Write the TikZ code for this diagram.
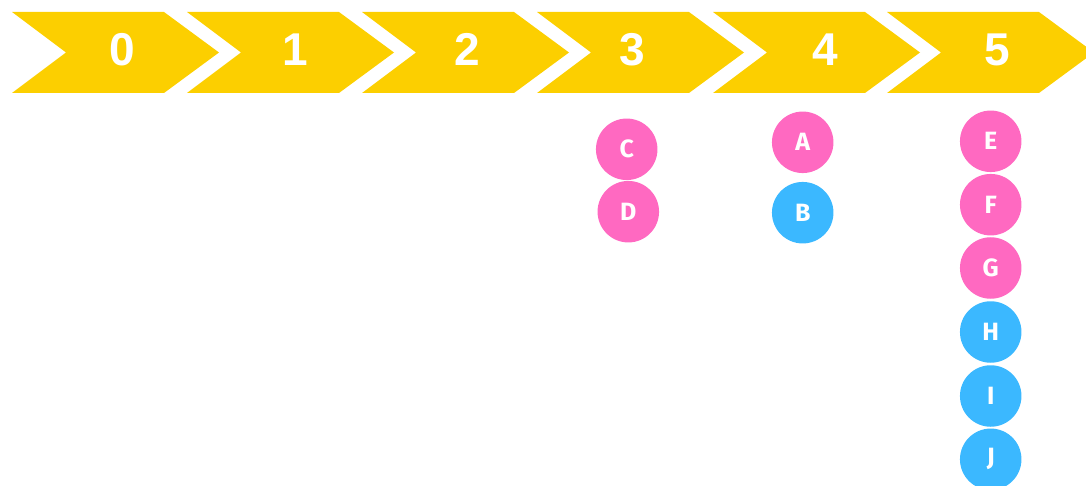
\documentclass[tikz,border=0pt]{standalone}
\usepackage{fontspec}
\setmainfont{Liberation Sans}
\newfontfamily\ballfont{Fira Sans}
\definecolor{stageyellow}{HTML}{FCCF00}
\definecolor{ballpink}{HTML}{FF69C1}
\definecolor{ballblue}{HTML}{3BB8FF}

\begin{document}
\begin{tikzpicture}[x=1pt, y=-1pt,
    stagelabel/.style={text=white, font=\fontsize{46}{46}\selectfont\bfseries, inner sep=0pt},
    ball/.style={circle, minimum size=61.5pt, inner sep=0pt, text=white,
        font=\ballfont\fontsize{25}{25}\selectfont\bfseries},
    pinkball/.style={ball, fill=ballpink},
    blueball/.style={ball, fill=ballblue}]
    \def\chevw{152}
    \def\chevtip{55}

    % --- Page frame ---
    \useasboundingbox (0,0) rectangle (1086,486);

    % --- Stage chevrons along the top ---
    \foreach \i/\x/\lx in {0/12/122, 1/187/295, 2/362/467, 3/537/632, 4/713/825, 5/887/997} {
        \fill[stageyellow] (\x,12) -- ++(\chevw,0) -- ++(\chevtip,40.5)
            -- ++(-\chevtip,40.5) -- ++(-\chevw,0) -- ++(54,-40.5) -- cycle;
        \node[stagelabel] (stage\i) at (\lx,49.5) {\i};
    }

    % --- Stage 3 ---
    \node[pinkball] (C) at (626.7,149.3) {C};
    \node[pinkball] (D) at (628.3,211.7) {D};

    % --- Stage 4 ---
    \node[pinkball] (A) at (802.7,142.3) {A};
    \node[blueball] (B) at (802.7,212.7) {B};

    % --- Stage 5 ---
    \node[pinkball] (E) at (990.7,141.3) {E};
    \node[pinkball] (F) at (990.7,204.7) {F};
    \node[pinkball] (G) at (990.7,268) {G};
    \node[blueball] (H) at (990.7,332) {H};
    \node[blueball] (I) at (990.7,396) {I};
    \node[blueball] (J) at (990.7,459.3) {J};
\end{tikzpicture}
\end{document}
